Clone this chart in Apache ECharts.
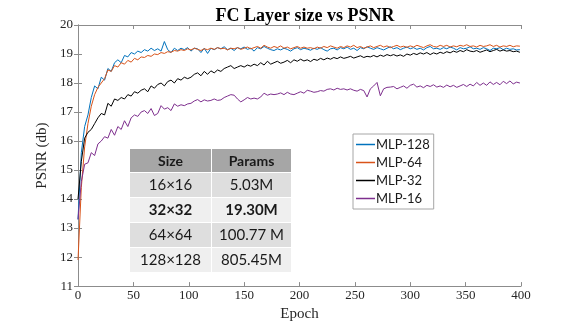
<!DOCTYPE html>
<html>
<head>
<meta charset="utf-8">
<script src="https://cdn.jsdelivr.net/npm/echarts@6/dist/echarts.min.js"></script>
<style>
  html, body { margin: 0; padding: 0; background: #fff; }
  #chart { width: 581px; height: 327px; }
</style>
</head>
<body>
<div id="chart"></div>
<script>
// 数据
const seriesNames = ['MLP-128', 'MLP-64', 'MLP-32', 'MLP-16'];
const seriesColors = ['#0072BD', '#D95319', '#000000', '#7E2F8E'];

// epochs 0,3,6,...,399
const epochs = [];
for (let e = 0; e <= 399; e += 3) epochs.push(e);

const mlp128 = [
  13.3, 15.6, 16.5, 16.9, 17.5, 17.9, 17.8, 18.2, 18.1, 18.5,
  18.4, 18.7, 18.8, 18.7, 18.95, 18.9, 19.05, 19.0, 19.1, 19.05,
  19.15, 19.1, 19.2, 19.12, 19.18, 19.1, 19.43, 19.15, 19.05, 19.2,
  19.12, 19.2, 19.15, 19.22, 19.1, 19.2, 19.18, 19.05, 19.2, 19.02,
  19.2, 19.15, 19.22, 19.18, 19.25, 19.15, 19.2, 19.12, 19.22, 19.18,
  19.24, 19.16, 19.2, 19.1, 19.22, 19.18, 19.26, 19.2, 19.15, 19.12,
  19.18, 19.14, 19.2, 19.16, 19.1, 19.18, 19.22, 19.15, 19.2, 19.17,
  19.13, 19.2, 19.16, 19.22, 19.15, 19.1, 19.18, 19.2, 19.14, 19.22,
  19.18, 19.24, 19.16, 19.2, 19.12, 19.22, 19.18, 19.25, 19.2, 19.16,
  19.22, 19.18, 19.14, 19.2, 19.25, 19.18, 19.22, 19.15, 19.2, 19.24,
  19.18, 19.22, 19.16, 19.2, 19.14, 19.22, 19.26, 19.18, 19.2, 19.16,
  19.22, 19.18, 19.24, 19.2, 19.14, 19.22, 19.18, 19.2, 19.25, 19.18,
  19.2, 19.16, 19.22, 19.18, 19.12, 19.2, 19.18, 19.22, 19.15, 19.2,
  19.16, 19.18, 19.14, 19.15
];
const mlp64 = [
  11.9, 14.4, 15.8, 16.6, 17.2, 17.6, 17.85, 18.0, 18.15, 18.45,
  18.4, 18.6, 18.55, 18.7, 18.65, 18.78, 18.72, 18.85, 18.8, 18.9,
  18.88, 18.95, 18.92, 19.0, 18.98, 19.05, 19.02, 19.08, 19.06, 19.12,
  19.1, 19.15, 19.12, 19.18, 19.14, 19.2, 19.16, 19.12, 19.18, 19.15,
  19.2, 19.16, 19.22, 19.18, 19.2, 19.14, 19.2, 19.18, 19.22, 19.16,
  19.2, 19.24, 19.18, 19.22, 19.26, 19.2, 19.3, 19.24, 19.2, 19.26,
  19.22, 19.28, 19.2, 19.24, 19.18, 19.22, 19.26, 19.2, 19.24, 19.2,
  19.22, 19.18, 19.24, 19.2, 19.26, 19.22, 19.28, 19.24, 19.2, 19.26,
  19.22, 19.28, 19.24, 19.3, 19.22, 19.26, 19.2, 19.24, 19.28, 19.22,
  19.26, 19.3, 19.24, 19.28, 19.22, 19.26, 19.3, 19.24, 19.27, 19.23,
  19.28, 19.24, 19.3, 19.26, 19.22, 19.28, 19.32, 19.26, 19.24, 19.3,
  19.26, 19.3, 19.24, 19.28, 19.25, 19.3, 19.27, 19.32, 19.26, 19.28,
  19.24, 19.3, 19.26, 19.28, 19.32, 19.26, 19.3, 19.24, 19.28, 19.26,
  19.3, 19.25, 19.28, 19.27
];
const mlp32 = [
  14.0, 15.3, 16.1, 16.3, 16.4, 16.6, 16.8, 16.95, 16.9, 17.3,
  17.2, 17.45, 17.4, 17.5, 17.45, 17.6, 17.55, 17.7, 17.65, 17.75,
  17.8, 17.7, 17.9, 17.82, 17.95, 18.0, 17.9, 18.05, 18.1, 18.0,
  18.15, 18.1, 18.2, 18.15, 18.2, 18.3, 18.35, 18.25, 18.4, 18.3,
  18.42, 18.35, 18.45, 18.4, 18.5, 18.55, 18.6, 18.5, 18.55, 18.6,
  18.55, 18.62, 18.58, 18.65, 18.6, 18.7, 18.62, 18.75, 18.65, 18.7,
  18.75, 18.68, 18.72, 18.78, 18.7, 18.8, 18.75, 18.82, 18.76, 18.8,
  18.74, 18.82, 18.78, 18.85, 18.8, 18.86, 18.82, 18.88, 18.84, 18.9,
  18.85, 18.88, 18.92, 18.86, 18.9, 18.94, 18.88, 18.92, 18.9, 18.95,
  18.9, 18.96, 18.92, 18.98, 18.94, 18.98, 18.93, 18.97, 18.92, 19.0,
  18.96, 19.02, 18.98, 19.04, 19.0, 19.05, 18.98, 19.04, 19.0, 19.06,
  19.02, 19.08, 19.04, 19.1, 19.06, 19.12, 19.08, 19.15, 19.1, 19.08,
  19.12, 19.06, 19.1, 19.14, 19.08, 19.12, 19.16, 19.1, 19.14, 19.1,
  19.12, 19.08, 19.1, 19.06
];
const mlp16 = [
  13.3, 14.6, 15.2, 15.25, 15.6, 15.5, 15.9, 16.0, 16.15, 16.1,
  16.4, 16.2, 16.5, 16.4, 16.7, 16.5, 16.8, 16.9, 16.85, 17.0,
  17.05, 16.95, 17.12, 16.88, 16.95, 17.22, 17.1, 17.15, 17.05, 17.28,
  17.2, 17.25, 17.22, 17.28, 17.3, 17.38, 17.43, 17.35, 17.42, 17.38,
  17.4, 17.45, 17.4, 17.42, 17.5, 17.55, 17.6, 17.58, 17.45, 17.35,
  17.42, 17.5, 17.45, 17.48, 17.45, 17.52, 17.65, 17.58, 17.62, 17.6,
  17.62, 17.66, 17.6, 17.68, 17.62, 17.6, 17.65, 17.7, 17.65, 17.75,
  17.72, 17.68, 17.7, 17.74, 17.72, 17.78, 17.8, 17.76, 17.82, 17.78,
  17.8, 17.76, 17.8, 17.75, 17.72, 17.78, 17.74, 17.52, 17.8, 17.9,
  18.02, 17.56, 17.8, 17.85, 17.86, 17.88, 17.8, 17.85, 17.9, 17.82,
  17.92, 17.96, 17.86, 17.9, 17.84, 17.92, 17.88, 17.94, 17.86, 17.9,
  17.85, 17.93, 17.87, 17.92, 17.85, 17.9, 17.95, 17.88, 17.96, 17.9,
  18.02, 17.92, 18.0, 17.92, 18.04, 17.95, 18.02, 17.94, 18.06, 17.98,
  18.07, 17.97, 18.03, 18.0
];
const seriesValues = [mlp128, mlp64, mlp32, mlp16];

// 表格
const tableHeader = ['Size', 'Params'];
const tableSizes = ['16×16', '32×32', '64×64', '128×128'];
const tableParams = ['5.03M', '19.30M', '100.77 M', '805.45M'];
const tableBoldRow = 1;

const serif = '"Liberation Serif", "DejaVu Serif", serif';
const sans = 'Lato, "Noto Sans", sans-serif';
const axisGray = '#8c8c8c';
const textDark = '#262626';

let chart = echarts.init(document.getElementById('chart'), null, { renderer: 'canvas' });

// 表格 graphic
const tX = 130, tY = 149, colW = [81, 79], headH = 23, rowH = 25;
const tableEls = [];
const headBg = '#a6a6a6';
const rowBg = ['#dedede', '#efefef', '#dedede', '#efefef'];
tableHeader.forEach((h, c) => {
  const x = tX + (c === 0 ? 0 : colW[0] + 1);
  tableEls.push({ type: 'rect', shape: { x: x, y: tY, width: colW[c], height: headH }, style: { fill: headBg } });
  tableEls.push({ type: 'text', x: x + colW[c] / 2, y: tY + headH / 2 + 1,
    style: { text: h, fill: '#1a1a1a', font: 'bold 14px ' + sans, align: 'center', verticalAlign: 'middle' } });
});
tableSizes.forEach((s, r) => {
  const y = tY + headH + 1 + r * rowH;
  [s, tableParams[r]].forEach((txt, c) => {
    const x = tX + (c === 0 ? 0 : colW[0] + 1);
    tableEls.push({ type: 'rect', shape: { x: x, y: y, width: colW[c], height: rowH - 1 }, style: { fill: rowBg[r] } });
    tableEls.push({ type: 'text', x: x + colW[c] / 2, y: y + rowH / 2,
      style: { text: txt, fill: '#1a1a1a', font: (r === tableBoldRow ? 'bold ' : '') + '15px ' + sans, align: 'center', verticalAlign: 'middle' } });
  });
});

chart.setOption({
  animation: false,
  backgroundColor: '#fff',
  title: {
    text: 'FC Layer size vs PSNR',
    left: 300, top: 2, textAlign: 'center',
    textStyle: { fontFamily: serif, fontWeight: 'bold', fontSize: 18, color: '#000' }
  },
  legend: {
    data: seriesNames,
    orient: 'vertical',
    left: 353, top: 134,
    icon: 'rect', itemWidth: 19, itemHeight: 1.5, itemGap: 5,
    padding: [4, 4, 4, 3],
    borderColor: '#a6a6a6', borderWidth: 1, backgroundColor: '#fff',
    textStyle: { fontFamily: sans, fontSize: 13, color: '#1a1a1a', padding: [0, 0, 0, -4] }
  },
  grid: { left: 78, right: 60, top: 25, bottom: 37, show: false },
  xAxis: [{
    type: 'value', min: 0, max: 400, interval: 50,
    name: 'Epoch', nameLocation: 'middle', nameGap: 18,
    nameTextStyle: { fontFamily: serif, fontSize: 15, color: textDark },
    axisLine: { show: true, lineStyle: { color: axisGray } },
    axisTick: { inside: true, length: 4, lineStyle: { color: axisGray } },
    axisLabel: { fontFamily: serif, fontSize: 13, color: textDark, margin: 3 },
    splitLine: { show: false }
  }, {
    type: 'value', min: 0, max: 400, interval: 50, position: 'top',
    axisLine: { show: true, lineStyle: { color: axisGray } },
    axisTick: { inside: true, length: 4, lineStyle: { color: axisGray } },
    axisLabel: { show: false }, splitLine: { show: false }
  }],
  yAxis: [{
    type: 'value', min: 11, max: 20, interval: 1,
    name: 'PSNR (db)', nameLocation: 'middle', nameGap: 27, nameRotate: 90,
    nameTextStyle: { fontFamily: serif, fontSize: 15, color: textDark },
    axisLine: { show: true, lineStyle: { color: axisGray } },
    axisTick: { inside: true, length: 4, lineStyle: { color: axisGray } },
    axisLabel: { fontFamily: serif, fontSize: 13, color: textDark, margin: 5 },
    splitLine: { show: false }
  }, {
    type: 'value', min: 11, max: 20, interval: 1, position: 'right',
    axisLine: { show: true, lineStyle: { color: axisGray } },
    axisTick: { inside: true, length: 4, lineStyle: { color: axisGray } },
    axisLabel: { show: false }, splitLine: { show: false }
  }],
  series: seriesNames.map((name, i) => ({
    name: name,
    type: 'line',
    data: epochs.map((e, j) => [e, seriesValues[i][j]]),
    showSymbol: false,
    lineStyle: { width: 1, color: seriesColors[i] },
    itemStyle: { color: seriesColors[i] },
    z: 2 + i
  })),
  graphic: [{ type: 'group', z: 100, children: tableEls }]
});
</script>
</body>
</html>
